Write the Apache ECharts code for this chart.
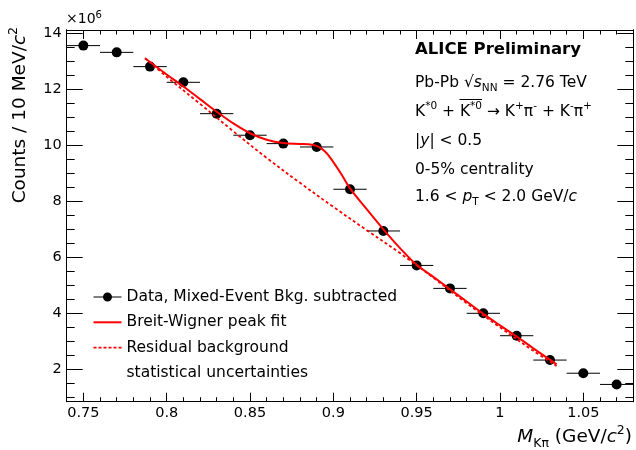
<!DOCTYPE html>
<html><head><meta charset="utf-8">
<script src="https://cdn.jsdelivr.net/npm/echarts@6/dist/echarts.min.js"></script>
<style>html,body{margin:0;padding:0;background:#fff}#c{width:636px;height:450px}</style>
</head><body><div id="c"></div>
<script>
// ---- data ----
const massBins = [0.75, 0.77, 0.79, 0.81, 0.83, 0.85, 0.87, 0.89, 0.91, 0.93, 0.95, 0.97, 0.99, 1.01, 1.03, 1.05, 1.07];
const counts   = [13.56, 13.32, 12.81, 12.25, 11.13, 10.36, 10.06, 9.94, 8.43, 6.94, 5.71, 4.89, 4.00, 3.20, 2.33, 1.86, 1.46];
const binHalfWidth = 0.01;
const fitMass   = [0.787, 0.80, 0.81, 0.82, 0.83, 0.84, 0.85, 0.86, 0.87, 0.88, 0.885, 0.89, 0.895, 0.90, 0.905, 0.91, 0.92, 0.93, 0.94, 0.95, 0.96, 0.97, 0.98, 0.99, 1.00, 1.01, 1.02, 1.034];
const fitCounts = [13.11, 12.53, 12.10, 11.65, 11.20, 10.78, 10.43, 10.20, 10.08, 10.05, 10.04, 9.98, 9.78, 9.40, 8.95, 8.46, 7.72, 7.00, 6.33, 5.73, 5.30, 4.86, 4.42, 3.98, 3.57, 3.17, 2.75, 2.18];
const bkgMass   = [0.787, 0.80, 0.82, 0.84, 0.86, 0.88, 0.90, 0.92, 0.94, 0.96, 0.98, 1.00, 1.02, 1.034];
const bkgCounts = [13.11, 12.45, 11.48, 10.50, 9.55, 8.66, 7.80, 6.97, 6.15, 5.27, 4.36, 3.50, 2.66, 2.12];
const xTickValues = [0.75, 0.8, 0.85, 0.9, 0.95, 1, 1.05];
const yTickValues = [2, 4, 6, 8, 10, 12, 14];
const legendNames = ['Data, Mixed-Event Bkg. subtracted', 'Breit-Wigner peak fit', 'Residual background', 'statistical uncertainties'];

// ---- layout / style ----
const FONT = 'DejaVu Sans';
const X_MIN = 0.74, X_MAX = 1.08, Y_MIN = 0.843, Y_MAX = 14.118;
function steps(a, b, s) { const o = []; const n = Math.round((b - a) / s); for (let i = 0; i <= n; i++) o.push(+(a + i * s).toFixed(4)); return o; }
const xMinor = steps(0.75, 1.07, 0.01).filter(v => !xTickValues.some(t => Math.abs(t - v) < 1e-6));
const yMinor = steps(1, 14, 0.5).filter(v => !yTickValues.includes(v));

function axis(kind, pos, ticks, len, withLabels) {
  const a = {
    type: 'value', position: pos, gridIndex: 0,
    min: kind === 'x' ? X_MIN : Y_MIN, max: kind === 'x' ? X_MAX : Y_MAX,
    axisLine: { show: true, onZero: false, lineStyle: { color: '#000', width: 1 } },
    axisTick: { show: true, inside: true, length: len, customValues: ticks, lineStyle: { color: '#000', width: 1 } },
    splitLine: { show: false },
    axisLabel: { show: false }
  };
  if (withLabels) {
    a.axisLabel = { show: true, customValues: ticks, color: '#000', fontFamily: FONT, fontSize: 14.5,
      margin: kind === 'x' ? 4 : 5 };
  }
  return a;
}

const dashPath = 'path://' + [0, 5, 10, 15, 20, 25].map(s => `M${s},0H${s + 3}V1.6H${s}Z`).join(' ');

const T = { fontFamily: FONT, fontSize: 15.5, lineHeight: 22, fill: '#000' };
const TI = Object.assign({}, T, { fontStyle: 'italic' });
const SUP = { fontFamily: FONT, fontSize: 10.5, lineHeight: 11, verticalAlign: 'top', fill: '#000' };
const SUB = { fontFamily: FONT, fontSize: 10.5, lineHeight: 11, verticalAlign: 'bottom', fill: '#000' };
function txt(x, y, text) {
  return { type: 'text', x: x, y: y, silent: true,
    style: { text: text, rich: { t: T, i: TI, sup: SUP, sub: SUB, b: Object.assign({}, T, { fontWeight: 'bold', fontSize: 16.5 }) },
      align: 'left', verticalAlign: 'middle', fill: '#000', fontFamily: FONT, fontSize: 15.5 } };
}

const TL = { fontFamily: FONT, fontSize: 18.5, lineHeight: 26, fill: '#000' };
const bigRich = { t: TL, i: Object.assign({}, TL, { fontStyle: 'italic' }),
  sup: { fontFamily: FONT, fontSize: 12.5, lineHeight: 13, verticalAlign: 'top', fill: '#000' },
  sub: { fontFamily: FONT, fontSize: 12.5, lineHeight: 13, verticalAlign: 'bottom', fill: '#000' } };

const chart = echarts.init(document.getElementById('c'), null, { renderer: 'canvas' });
chart.setOption({
  animation: false,
  backgroundColor: '#fff',
  grid: { left: 66.7, right: 2.7, top: 30, bottom: 48.3, containLabel: false, outerBoundsMode: 'none' },
  xAxis: [
    axis('x', 'bottom', xTickValues, 9, true),
    axis('x', 'bottom', xMinor, 4.5, false),
    axis('x', 'top', xTickValues, 9, false),
    axis('x', 'top', xMinor, 4.5, false)
  ],
  yAxis: [
    axis('y', 'left', yTickValues, 16, true),
    axis('y', 'left', yMinor, 8, false),
    axis('y', 'right', yTickValues, 16, false),
    axis('y', 'right', yMinor, 8, false)
  ],
  legend: {
    orient: 'vertical', left: 93.5, top: 289, padding: 0, itemGap: 9.3, itemWidth: 28, itemHeight: 9, itemTextGap: 5,
    selectedMode: false,
    textStyle: { fontFamily: FONT, fontSize: 15.5, color: '#000', lineHeight: 16 },
    data: [
      { name: legendNames[0], icon: 'path://M0,4L28,4L28,5L0,5Z M18.5,4.5A4.5,4.5 0 1 1 9.5,4.5A4.5,4.5 0 1 1 18.5,4.5Z', itemStyle: { color: '#000', opacity: 1 } },
      { name: legendNames[1], icon: 'path://M0,0H28V2H0Z' },
      { name: legendNames[2], icon: dashPath },
      { name: legendNames[3], icon: 'none' }
    ]
  },
  series: [
    {
      type: 'custom', name: legendNames[3], xAxisIndex: 0, yAxisIndex: 0, silent: true,
      itemStyle: { color: '#000' },
      data: massBins.map((m, i) => [m, counts[i]]),
      renderItem: function (params, api) {
        const x = api.value(0), y = api.value(1);
        const p1 = api.coord([x - binHalfWidth, y]), p2 = api.coord([x + binHalfWidth, y]);
        return { type: 'line', shape: { x1: p1[0], y1: p1[1], x2: p2[0], y2: p2[1] }, style: { stroke: '#000', lineWidth: 1 } };
      }
    },
    {
      type: 'scatter', name: legendNames[0], xAxisIndex: 0, yAxisIndex: 0, silent: true,
      symbol: 'circle', symbolSize: 10, itemStyle: { color: '#000', opacity: 1 },
      data: massBins.map((m, i) => [m, counts[i]])
    },
    {
      type: 'line', name: legendNames[1], xAxisIndex: 0, yAxisIndex: 0, silent: true,
      smooth: 0.35, symbol: 'none', itemStyle: { color: '#ff0000' },
      lineStyle: { color: '#ff0000', width: 2 },
      data: fitMass.map((m, i) => [m, fitCounts[i]])
    },
    {
      type: 'line', name: legendNames[2], xAxisIndex: 0, yAxisIndex: 0, silent: true,
      smooth: 0.35, symbol: 'none', itemStyle: { color: '#ff0000' },
      lineStyle: { color: '#ff0000', width: 1.8, type: [3, 2.5] },
      data: bkgMass.map((m, i) => [m, bkgCounts[i]])
    }
  ],
  graphic: [
    { type: 'text', x: 66, y: 19, silent: true, style: { text: '{t|×10}{sup|6}', align: 'left', verticalAlign: 'middle',
      rich: { t: { fontFamily: FONT, fontSize: 14, lineHeight: 18, fill: '#000' }, sup: { fontFamily: FONT, fontSize: 10, lineHeight: 10, verticalAlign: 'top', fill: '#000' } } } },
    { type: 'text', x: 20, y: 27, rotation: Math.PI / 2, silent: true, style: { text: '{t|Counts / 10 MeV/}{i|c}{sup|2}', align: 'right', verticalAlign: 'middle', rich: bigRich } },
    { type: 'text', x: 632, y: 437, silent: true, style: { text: '{i|M}{sub|Kπ}{t| (GeV/}{i|c}{sup|2}{t|)}', align: 'right', verticalAlign: 'middle', rich: bigRich } },
    txt(415, 50, '{b|ALICE Preliminary}'),
    txt(415, 83, '{t|Pb-Pb √}{i|s}{sub|NN}{t| = 2.76 TeV}'),
    txt(415, 112, '{t|K}{sup|*0}{t| + K}{sup|*0}{t| → K}{sup|+}{t|π}{sup|-}{t| + K}{sup|-}{t|π}{sup|+}'),
    { type: 'line', silent: true, shape: { x1: 459.5, y1: 99.5, x2: 482, y2: 99.5 }, style: { stroke: '#000', lineWidth: 1 } },
    txt(415, 141, '{t||}{i|y}{t|| < 0.5}'),
    txt(415, 169.5, '{t|0-5% centrality}'),
    txt(415, 197, '{t|1.6 < }{i|p}{sub|T}{t| < 2.0 GeV/}{i|c}')
  ]
});
</script>
</body></html>
